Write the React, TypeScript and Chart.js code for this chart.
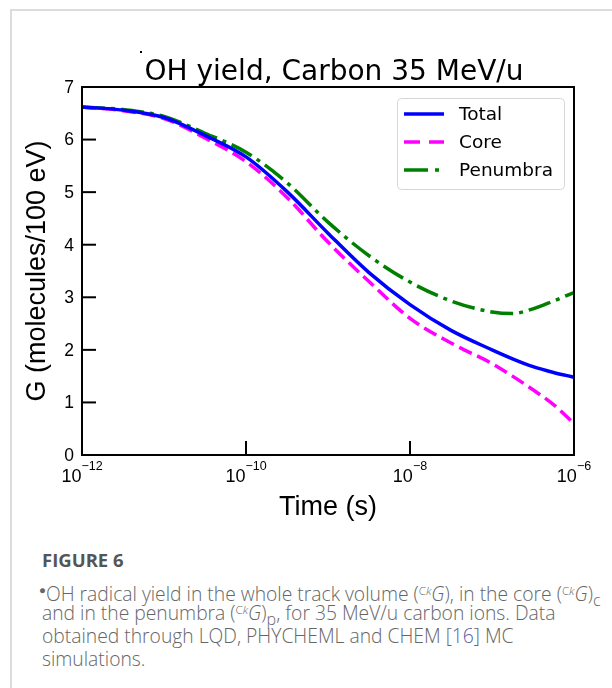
import React, { useEffect, useRef } from "react";
import { Chart, registerables } from "chart.js";

Chart.register(...registerables);

// log10(time / s)
const timeExponents = [-12, -11.5, -11, -10.5, -10, -9.5, -9, -8.5, -8, -7.5, -7, -6.75, -6.5, -6.25, -6];
const totalG = [6.62, 6.56, 6.42, 6.08, 5.67, 5.01, 4.22, 3.47, 2.86, 2.37, 2.0, 1.83, 1.68, 1.57, 1.48];
const coreG = [6.62, 6.55, 6.4, 6.03, 5.58, 4.9, 4.05, 3.3, 2.6, 2.13, 1.74, 1.5, 1.24, 0.96, 0.6];
const penumbraG = [6.62, 6.57, 6.44, 6.12, 5.76, 5.18, 4.43, 3.79, 3.29, 2.93, 2.72, 2.69, 2.78, 2.93, 3.09];

const xTickExponents = [-12, -10, -8, -6];
const yTickValues = [0, 1, 2, 3, 4, 5, 6, 7];
const seriesNames = ["Total", "Core", "Penumbra"];
const seriesColors = ["#0000ff", "#ff00ff", "#008000"];
const seriesDashes: number[][] = [[], [14, 6], [23, 6, 4, 6]];

const TITLE = "OH yield, Carbon 35 MeV/u";
const X_TITLE = "Time (s)";
const Y_TITLE = "G (molecules/100 eV)";

const ARIAL = '"Liberation Sans", Arial, sans-serif';
const DEJAVU = '"DejaVu Sans", sans-serif';

const decorPlugin = {
  id: "decor",
  afterDatasetsDraw(chart: any) {
    const ctx: CanvasRenderingContext2D = chart.ctx;
    const area = chart.chartArea;
    const xs = chart.scales.x;
    const ys = chart.scales.y;
    ctx.save();

    // frame
    ctx.strokeStyle = "#000";
    ctx.lineWidth = 2;
    ctx.setLineDash([]);
    ctx.strokeRect(area.left, area.top, area.right - area.left, area.bottom - area.top);

    // y ticks (inward) + labels
    ctx.fillStyle = "#000";
    ctx.font = `17.5px ${ARIAL}`;
    ctx.textAlign = "right";
    ctx.textBaseline = "middle";
    yTickValues.forEach((v) => {
      const y = ys.getPixelForValue(v);
      ctx.beginPath();
      ctx.moveTo(area.left, y);
      ctx.lineTo(area.left + 14, y);
      ctx.stroke();
      ctx.fillText(String(v), area.left - 8, y + 1);
    });

    // x ticks (inward) + labels 10^n
    xTickExponents.forEach((e) => {
      const x = xs.getPixelForValue(Math.pow(10, e));
      ctx.beginPath();
      ctx.moveTo(x, area.bottom);
      ctx.lineTo(x, area.bottom - 14);
      ctx.stroke();
      const base = "10";
      const sup = "\u2212" + String(Math.abs(e));
      ctx.font = `18px ${ARIAL}`;
      const wb = ctx.measureText(base).width;
      ctx.font = `12.5px ${ARIAL}`;
      const ws = ctx.measureText(sup).width;
      const start = x - (wb + ws) / 2;
      ctx.textAlign = "left";
      ctx.textBaseline = "alphabetic";
      ctx.font = `18px ${ARIAL}`;
      ctx.fillText(base, start, area.bottom + 27);
      ctx.font = `12.5px ${ARIAL}`;
      ctx.fillText(sup, start + wb, area.bottom + 15);
    });

    // axis titles
    ctx.font = `27px ${ARIAL}`;
    ctx.textAlign = "center";
    ctx.textBaseline = "alphabetic";
    ctx.fillText(X_TITLE, (area.left + area.right) / 2, 515);
    ctx.save();
    ctx.translate(38, (area.top + area.bottom) / 2);
    ctx.rotate(-Math.PI / 2);
    ctx.textBaseline = "middle";
    ctx.fillText(Y_TITLE, 0, 0);
    ctx.restore();

    // title
    ctx.font = `28px ${DEJAVU}`;
    ctx.textAlign = "center";
    ctx.textBaseline = "alphabetic";
    ctx.fillText(TITLE, 334, 80);
    ctx.fillRect(140, 51, 2, 2);

    // legend
    const bx = 397, by = 98, bw = 167, bh = 91;
    ctx.beginPath();
    ctx.roundRect(bx + 0.5, by + 0.5, bw, bh, 4);
    ctx.fillStyle = "rgba(255,255,255,0.85)";
    ctx.fill();
    ctx.strokeStyle = "#d6d6d6";
    ctx.lineWidth = 1;
    ctx.stroke();
    ctx.font = `18.5px ${DEJAVU}`;
    ctx.textAlign = "left";
    ctx.textBaseline = "middle";
    seriesNames.forEach((name, i) => {
      const y = 114 + i * 28;
      ctx.strokeStyle = seriesColors[i];
      ctx.lineWidth = 3.5;
      ctx.setLineDash(i === 1 ? [16, 9] : i === 2 ? [24, 7, 4, 7] : []);
      ctx.beginPath();
      ctx.moveTo(404, y);
      ctx.lineTo(444, y);
      ctx.stroke();
      ctx.setLineDash([]);
      ctx.fillStyle = "#000";
      ctx.fillText(name, 459, y + 1);
    });

    ctx.restore();
  },
};

function ChartCanvas() {
  const ref = useRef<HTMLCanvasElement | null>(null);
  useEffect(() => {
    if (!ref.current) return;
    const mk = (vals: number[]) => timeExponents.map((e, i) => ({ x: Math.pow(10, e), y: vals[i] }));
    const seriesValues = [totalG, coreG, penumbraG];
    const chart = new Chart(ref.current, {
      type: "line",
      data: {
        datasets: seriesNames.map((name, i) => ({
          label: name,
          data: mk(seriesValues[i]),
          borderColor: seriesColors[i],
          backgroundColor: seriesColors[i],
          borderWidth: 3.5,
          borderDash: seriesDashes[i],
          pointRadius: 0,
          cubicInterpolationMode: "monotone" as const,
          fill: false,
        })),
      },
      options: {
        responsive: false,
        animation: false,
        devicePixelRatio: 1,
        layout: { padding: { left: 82, right: 38, top: 87, bottom: 85 } },
        scales: {
          x: { type: "logarithmic", min: 1e-12, max: 1e-6, display: false },
          y: { type: "linear", min: 0, max: 7, display: false },
        },
        plugins: {
          legend: { display: false },
          title: { display: false },
          tooltip: { enabled: false },
        },
      },
      plugins: [decorPlugin],
    });
    return () => chart.destroy();
  }, []);
  return (
    <canvas
      ref={ref}
      width={612}
      height={540}
      style={{ position: "absolute", left: 0, top: 0, width: 612, height: 540 }}
    />
  );
}

const capFont = '"Open Sans", "Noto Sans", sans-serif';

function Ck() {
  return (
    <sup style={{ fontSize: "0.6em", verticalAlign: "0.5em", lineHeight: 0 }}>
      C<i>k</i>
    </sup>
  );
}

export default function App() {
  const lineStyle: React.CSSProperties = {
    position: "absolute",
    left: 42,
    whiteSpace: "nowrap",
    fontFamily: capFont,
    fontSize: 19.3,
    fontWeight: 300,
    color: "#666",
    lineHeight: "23px",
  };
  return (
    <div
      style={{
        position: "absolute",
        left: 0,
        top: 0,
        width: 612,
        height: 688,
        overflow: "hidden",
        background: "#fff",
      }}
    >
      <div
        style={{
          position: "absolute",
          left: 10,
          top: 9,
          width: 700,
          height: 800,
          borderTop: "2px solid #dcdcdc",
          borderLeft: "2px solid #dcdcdc",
        }}
      />
      <ChartCanvas />
      <div
        style={{
          ...lineStyle,
          top: 548,
          fontWeight: 700,
          fontSize: 18.5,
          color: "#555",
        }}
      >
        FIGURE 6
      </div>
      <div style={{ ...lineStyle, top: 578, left: 39 }}>
        <span style={{ fontSize: "0.6em", verticalAlign: "0.6em" }}>●</span>OH radical yield in the whole track volume (
        <Ck />
        <i>G</i>), in the core (<Ck />
        <i>G</i>)<sub style={{ lineHeight: 0 }}>c</sub>
      </div>
      <div style={{ ...lineStyle, top: 601 }}>
        and in the penumbra (<Ck />
        <i>G</i>)<sub style={{ lineHeight: 0 }}>p</sub>, for 35 MeV/u carbon ions. Data
      </div>
      <div style={{ ...lineStyle, top: 624 }}>
        obtained through LQD, PHYCHEML and CHEM [<span style={{ color: "#5a5aa8" }}>16</span>] MC
      </div>
      <div style={{ ...lineStyle, top: 647 }}>simulations.</div>
    </div>
  );
}
